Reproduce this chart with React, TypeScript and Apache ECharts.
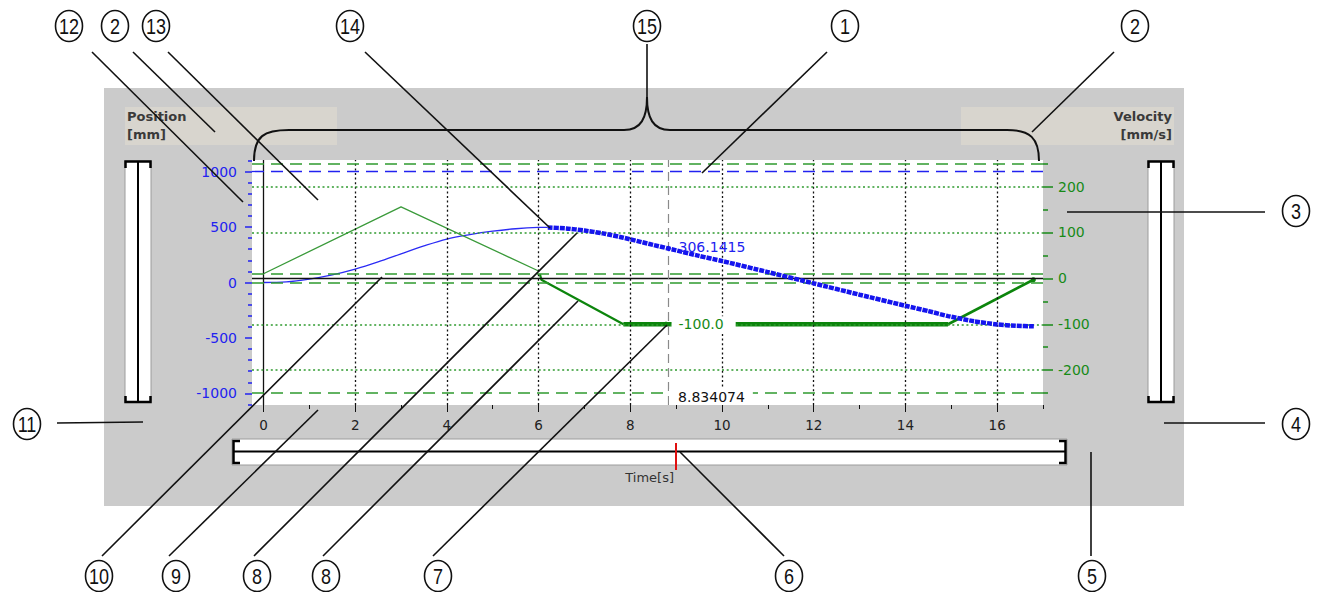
import React, { useEffect, useRef } from "react";
import * as echarts from "echarts";

// ---------- axis ticks / ranges ----------
const timeMajorTicks = [0, 2, 4, 6, 8, 10, 12, 14, 16];
const timeMinorTicks = [1, 3, 5, 7, 9, 11, 13, 15, 17];
const positionMajorTicks = [-1000, -500, 0, 500, 1000];
const positionMinorTicks = [-1100, -900, -800, -700, -600, -400, -300, -200, -100, 100, 200, 300, 400, 600, 700, 800, 900, 1100];
const velocityMajorTicks = [-200, -100, 0, 100, 200];
const velocityMinorTicks = [-250, -150, -50, 50, 150, 250];

const timeRange = [-0.25, 17];
const positionRange = [-1105, 1105];
const velocityRange = [-276, 258];

// ---------- recorded curves ----------
const posHistTime = [0, 0.5, 1, 1.5, 2, 2.5, 3, 3.5, 4, 4.5, 5, 5.5, 6, 6.2];
const posHistValue = [0, 5, 30, 68, 120, 185, 258, 330, 392, 432, 463, 485, 497, 498];
const posRecTime = [6.2, 6.6, 7, 7.4, 7.85, 8.4, 8.834074, 9.5, 10, 11, 12, 13, 14, 14.5, 14.93, 15.5, 16, 16.4, 16.8];
const posRecValue = [497, 488, 469, 443, 404, 349, 306.1415, 240, 194, 94, -8, -110, -210, -258, -303, -350, -378, -390, -395];

const velHistTime = [0, 3, 6];
const velHistValue = [10, 156, 16];
const velAccTime = [6.03, 6.06, 7.85];
const velAccValue = [9, -3, -100];
const velConstTime = [7.85, 14.93];
const velConstValue = [-100, -100];
const velDecTime = [14.93, 16.79];
const velDecValue = [-100, -3];

// ---------- cursor ----------
const cursorTime = 8.834074;
const cursorPosition = 306.1415;
const cursorVelocity = -100.0;

// ---------- reference lines ----------
const positionLimits = [1000];
const velocityLimits = [250, -250];
const velocityWindow = [10, -10];
const velocityGrid = [200, 100, -100, -200];
const velocityZero = [0];
const timeGrid = [2, 4, 6, 8, 10, 12, 14, 16];
const timeZero = [0];

// ---------- callouts ----------
const calloutLabels = ["12", "2", "13", "14", "15", "1", "2", "3", "4", "11", "10", "9", "8", "8", "7", "6", "5"];

const zip = (t: number[], v: number[]) => t.map((x, i) => [x, v[i]]);

const BLUE = "#1414ee";
const BLUE_TEXT = "#2222f0";
const GREEN = "#0c850c";
const GREEN_TEXT = "#178a17";
const GRID_GREEN = "#2f9a2f";
const FONT = "DejaVu Sans";

function buildOption(): any {
  const markNone = { silent: true, symbol: ["none", "none"], label: { show: false }, emphasis: { disabled: true }, animation: false };
  const hiddenLine = { show: false, onZero: false };
  return {
    animation: false,
    textStyle: { fontFamily: FONT },
    grid: {
      left: 252, top: 160, width: 791, height: 245,
      show: true, backgroundColor: "#ffffff", borderWidth: 0,
      containLabel: false, outerBoundsMode: "none",
    },
    xAxis: [
      {
        type: "value", position: "bottom", min: timeRange[0], max: timeRange[1],
        axisLine: hiddenLine, splitLine: { show: false },
        axisTick: { show: true, customValues: timeMajorTicks, length: 7, lineStyle: { color: "#111", width: 1 } },
        axisLabel: { show: true, customValues: timeMajorTicks, margin: 13, color: "#222", fontSize: 13.5, fontFamily: FONT, verticalAlign: "top", formatter: (v: number) => String(v) },
      },
      {
        type: "value", position: "bottom", min: timeRange[0], max: timeRange[1],
        axisLine: hiddenLine, splitLine: { show: false },
        axisTick: { show: true, customValues: timeMinorTicks, length: 4, lineStyle: { color: "#111", width: 1 } },
        axisLabel: { show: false },
      },
    ],
    yAxis: [
      {
        type: "value", position: "left", min: positionRange[0], max: positionRange[1],
        axisLine: hiddenLine, splitLine: { show: false },
        axisTick: { show: true, customValues: positionMajorTicks, length: 7, lineStyle: { color: BLUE_TEXT, width: 1.5 } },
        axisLabel: { show: true, customValues: positionMajorTicks, margin: 15, color: BLUE_TEXT, fontSize: 14, fontFamily: FONT, formatter: (v: number) => String(v) },
      },
      {
        type: "value", position: "left", min: positionRange[0], max: positionRange[1],
        axisLine: hiddenLine, splitLine: { show: false },
        axisTick: { show: true, customValues: positionMinorTicks, length: 4, lineStyle: { color: BLUE_TEXT, width: 1.5 } },
        axisLabel: { show: false },
      },
      {
        type: "value", position: "right", min: velocityRange[0], max: velocityRange[1],
        axisLine: hiddenLine, splitLine: { show: false },
        axisTick: { show: true, customValues: velocityMajorTicks, length: 10, lineStyle: { color: GREEN_TEXT, width: 1.5 } },
        axisLabel: { show: true, customValues: velocityMajorTicks, margin: 15, color: GREEN_TEXT, fontSize: 14, fontFamily: FONT, formatter: (v: number) => String(v) },
      },
      {
        type: "value", position: "right", min: velocityRange[0], max: velocityRange[1],
        axisLine: hiddenLine, splitLine: { show: false },
        axisTick: { show: true, customValues: velocityMinorTicks, length: 5, lineStyle: { color: GREEN_TEXT, width: 1.5 } },
        axisLabel: { show: false },
      },
    ],
    series: [
      {
        type: "line", name: "grid", data: [], xAxisIndex: 0, yAxisIndex: 2, z: 1, silent: true,
        markLine: {
          ...markNone,
          data: [
            ...timeGrid.map((t) => ({ xAxis: t, lineStyle: { color: "#111", type: [2, 2.6], width: 1.3 } })),
            ...timeZero.map((t) => ({ xAxis: t, lineStyle: { color: "#111", type: "solid", width: 1.3 } })),
            ...velocityGrid.map((v) => ({ yAxis: v, lineStyle: { color: GRID_GREEN, type: [2, 2.7], width: 1.5 } })),
            ...velocityLimits.map((v) => ({ yAxis: v, lineStyle: { color: GRID_GREEN, type: [12, 7], width: 1.5 } })),
            ...velocityWindow.map((v) => ({ yAxis: v, lineStyle: { color: GRID_GREEN, type: [12, 7], width: 1.5 } })),
            ...velocityZero.map((v) => ({ yAxis: v, lineStyle: { color: "#111", type: "solid", width: 1.3 } })),
            { xAxis: cursorTime, lineStyle: { color: "#8a8a8a", type: [9, 5], width: 1.2 } },
          ],
        },
      },
      {
        type: "line", name: "posLimits", data: [], xAxisIndex: 0, yAxisIndex: 0, z: 1, silent: true,
        markLine: {
          ...markNone,
          data: positionLimits.map((v) => ({ yAxis: v, lineStyle: { color: BLUE_TEXT, type: [12, 7], width: 1.3 } })),
        },
      },
      {
        type: "line", name: "posHist", data: zip(posHistTime, posHistValue), xAxisIndex: 0, yAxisIndex: 0, z: 3,
        showSymbol: false, smooth: 0.35, silent: true, lineStyle: { color: "#2b2bf5", width: 1.3 },
      },
      {
        type: "line", name: "velHist", data: zip(velHistTime, velHistValue), xAxisIndex: 0, yAxisIndex: 2, z: 3,
        showSymbol: false, silent: true, lineStyle: { color: "#3a9a3a", width: 1.3 },
      },
      {
        type: "line", name: "velAcc", data: zip(velAccTime, velAccValue), xAxisIndex: 0, yAxisIndex: 2, z: 4,
        showSymbol: false, silent: true, lineStyle: { color: GREEN, width: 2.2 },
      },
      {
        type: "line", name: "velConst", data: zip(velConstTime, velConstValue), xAxisIndex: 0, yAxisIndex: 2, z: 4,
        showSymbol: false, silent: true, lineStyle: { color: GREEN, width: 4.5, cap: "butt" },
      },
      {
        type: "line", name: "velDec", data: zip(velDecTime, velDecValue), xAxisIndex: 0, yAxisIndex: 2, z: 4,
        showSymbol: true, symbol: "circle", symbolSize: (_v: any, p: any) => (p.dataIndex === velDecTime.length - 1 ? 5 : 0),
        itemStyle: { color: GREEN }, silent: true, lineStyle: { color: GREEN, width: 2.6 },
      },
      {
        type: "line", name: "posRec", data: zip(posRecTime, posRecValue), xAxisIndex: 0, yAxisIndex: 0, z: 5,
        showSymbol: false, smooth: 0.2, silent: true, lineStyle: { color: BLUE, width: 4.5, type: [5, 1], cap: "butt" },
      },
      {
        type: "scatter", name: "cursorPos", data: [[cursorTime, cursorPosition]], xAxisIndex: 0, yAxisIndex: 0, z: 10,
        symbol: "diamond", symbolSize: 6, itemStyle: { color: BLUE }, silent: true,
        label: {
          show: true, position: "right", distance: 7, offset: [0, -2],
          formatter: (p: any) => Number(p.value[1]).toFixed(4),
          color: BLUE_TEXT, fontSize: 14, fontFamily: FONT, opacity: 1,
          textBorderWidth: 0, textShadowBlur: 0,
        },
      },
      {
        type: "scatter", name: "cursorVel", data: [[cursorTime, cursorVelocity]], xAxisIndex: 0, yAxisIndex: 2, z: 10,
        symbol: "triangle", symbolRotate: -90, symbolSize: 6, itemStyle: { color: GREEN }, silent: true,
        label: {
          show: true, position: "right", distance: 0,
          formatter: (p: any) => Number(p.value[1]).toFixed(1),
          color: GREEN_TEXT, fontSize: 14, fontFamily: FONT, opacity: 1,
          textBorderWidth: 0, textShadowBlur: 0,
          backgroundColor: "#ffffff", padding: [1, 12, 1, 7],
        },
      },
    ],
  };
}

function calloutElements(label: string, cx: number, cy: number, x1: number, y1: number, x2: number, y2: number) {
  return [
    { type: "line", z: 30, shape: { x1, y1, x2, y2 }, style: { stroke: "#111", lineWidth: 1.6 } },
    { type: "ellipse", z: 31, shape: { cx, cy, rx: 13.5, ry: 15.5 }, style: { fill: "#ffffff", stroke: "#111", lineWidth: 1.6 } },
    {
      type: "text", z: 32, x: cx, y: cy + 0.5, scaleY: 1.25,
      style: {
        text: label, fill: "#111", fontSize: 18,
        fontFamily: "Liberation Sans Narrow, Liberation Sans, Arial",
        align: "center", verticalAlign: "middle",
      },
    },
  ];
}

function buildGraphics(cursorX: number): any[] {
  const els: any[] = [];
  // panel
  els.push({ type: "rect", z: -10, shape: { x: 104, y: 88, width: 1080, height: 418 }, style: { fill: "#cbcbcb" } });
  els.push({ type: "rect", z: -9, shape: { x: 125, y: 107, width: 212, height: 38 }, style: { fill: "#d8d5ce" } });
  els.push({ type: "rect", z: -9, shape: { x: 961, y: 107, width: 213, height: 38 }, style: { fill: "#d8d5ce" } });
  const titleStyle = { fill: "#3a3a3a", fontSize: 13, fontWeight: "bold", fontFamily: FONT, verticalAlign: "middle" };
  els.push({ type: "text", z: 5, x: 127, y: 116, style: { ...titleStyle, text: "Position", align: "left" } });
  els.push({ type: "text", z: 5, x: 127, y: 134, style: { ...titleStyle, text: "[mm]", align: "left" } });
  els.push({ type: "text", z: 5, x: 1172, y: 116, style: { ...titleStyle, text: "Velocity", align: "right" } });
  els.push({ type: "text", z: 5, x: 1172, y: 134, style: { ...titleStyle, text: "[mm/s]", align: "right" } });

  // vertical scrollbars
  const vbar = (x0: number) => {
    els.push({ type: "rect", z: -8, shape: { x: x0, y: 161, width: 26, height: 241 }, style: { fill: "#ffffff", stroke: "#9c9c9c", lineWidth: 1 } });
    els.push({ type: "line", z: -7, shape: { x1: x0 + 13, y1: 161, x2: x0 + 13, y2: 402 }, style: { stroke: "#000", lineWidth: 2 } });
    els.push({ type: "polyline", z: -7, shape: { points: [[x0 + 0.5, 168], [x0 + 0.5, 161.5], [x0 + 25.5, 161.5], [x0 + 25.5, 168]] }, style: { stroke: "#000", lineWidth: 2.5, fill: null } });
    els.push({ type: "polyline", z: -7, shape: { points: [[x0 + 0.5, 396], [x0 + 0.5, 402], [x0 + 25.5, 402], [x0 + 25.5, 396]] }, style: { stroke: "#000", lineWidth: 2.5, fill: null } });
  };
  vbar(125);
  vbar(1148);

  // horizontal scrollbar
  els.push({ type: "rect", z: -8, shape: { x: 232, y: 439, width: 835, height: 26 }, style: { fill: "#ffffff", stroke: "#9c9c9c", lineWidth: 1 } });
  els.push({ type: "line", z: -7, shape: { x1: 233, y1: 451.5, x2: 1066, y2: 451.5 }, style: { stroke: "#000", lineWidth: 2 } });
  els.push({ type: "polyline", z: -7, shape: { points: [[240, 441], [233.5, 441], [233.5, 463], [240, 463]] }, style: { stroke: "#000", lineWidth: 2.5, fill: null } });
  els.push({ type: "polyline", z: -7, shape: { points: [[1059, 441], [1065.5, 441], [1065.5, 463], [1059, 463]] }, style: { stroke: "#000", lineWidth: 2.5, fill: null } });
  els.push({ type: "line", z: -6, shape: { x1: 676, y1: 443, x2: 676, y2: 470 }, style: { stroke: "#e01010", lineWidth: 2 } });
  els.push({ type: "text", z: 5, x: 674, y: 477, style: { text: "Time[s]", fill: "#333", fontSize: 13, fontFamily: FONT, align: "right", verticalAlign: "middle" } });

  // cursor time label
  els.push({
    type: "text", z: 8, x: cursorX + 0.5, y: 397,
    style: {
      text: cursorTime.toFixed(6), fill: "#111", fontSize: 14, fontFamily: FONT,
      align: "left", verticalAlign: "middle", backgroundColor: "#ffffff", padding: [1, 8, 1, 9],
    },
  });

  // brace
  const bs = { stroke: "#111", lineWidth: 2, fill: null };
  els.push({ type: "bezierCurve", z: 30, shape: { x1: 254, y1: 161, cpx1: 254, cpy1: 136, cpx2: 264, cpy2: 130, x2: 289, y2: 130 }, style: bs });
  els.push({ type: "line", z: 30, shape: { x1: 289, y1: 130, x2: 624, y2: 130 }, style: bs });
  els.push({ type: "bezierCurve", z: 30, shape: { x1: 624, y1: 130, cpx1: 641, cpy1: 130, cpx2: 647, cpy2: 118, x2: 647, y2: 97 }, style: bs });
  els.push({ type: "bezierCurve", z: 30, shape: { x1: 647, y1: 97, cpx1: 647, cpy1: 118, cpx2: 653, cpy2: 130, x2: 670, y2: 130 }, style: bs });
  els.push({ type: "line", z: 30, shape: { x1: 670, y1: 130, x2: 1007, y2: 130 }, style: bs });
  els.push({ type: "bezierCurve", z: 30, shape: { x1: 1007, y1: 130, cpx1: 1030, cpy1: 130, cpx2: 1039, cpy2: 138, x2: 1039, y2: 161 }, style: bs });

  // callouts
  const geo: number[][] = [
    [69, 26, 92, 52, 243, 202],
    [115, 26, 133, 52, 215, 132],
    [156, 26, 168, 52, 318, 200],
    [350, 26, 365, 52, 550, 228],
    [647, 26, 647, 44, 647, 97],
    [845, 26, 827, 52, 702, 173],
    [1135, 26, 1114, 52, 1032, 132],
    [1296, 211, 1265, 212, 1067, 212],
    [1296, 424, 1265, 423, 1164, 423],
    [27, 424, 57, 423, 143, 422],
    [99, 576, 102, 556, 382, 277],
    [176, 576, 169, 556, 318, 410],
    [257, 576, 254, 556, 577, 233],
    [326, 576, 323, 556, 578, 301],
    [438, 576, 433, 556, 667, 325],
    [789, 576, 784, 556, 680, 452],
    [1092, 576, 1091, 556, 1091, 452],
  ];
  geo.forEach((g, i) => {
    els.push(...calloutElements(calloutLabels[i], g[0], g[1], g[2], g[3], g[4], g[5]));
  });
  return els;
}

export default function App() {
  const ref = useRef<HTMLDivElement>(null);
  useEffect(() => {
    if (!ref.current) return;
    const chart = echarts.init(ref.current, null, { renderer: "svg" });
    chart.setOption(buildOption());
    const cx = chart.convertToPixel({ xAxisIndex: 0 }, cursorTime) as unknown as number;
    chart.setOption({ graphic: { elements: buildGraphics(cx) } });
    return () => chart.dispose();
  }, []);
  return (
    <div
      ref={ref}
      style={{ position: "fixed", left: 0, top: 0, width: 1322, height: 592, background: "#ffffff" }}
    />
  );
}
